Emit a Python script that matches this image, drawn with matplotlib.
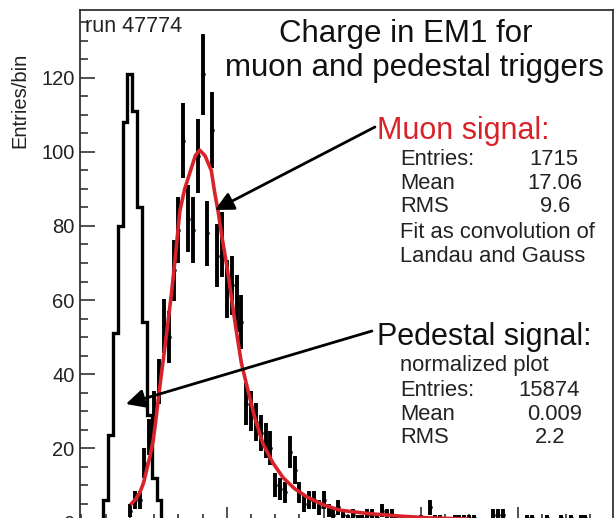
import numpy as np
import matplotlib
matplotlib.use("Agg")
import matplotlib.pyplot as plt

plt.rcParams['font.family'] = ['Liberation Sans', 'DejaVu Sans']

W, H = 614, 518

# ---------------- data ----------------
# pedestal histogram (normalized), bins of width 1 centred on integers
ped_centers = [-6, -5, -4, -3, -2, -1, 0, 1, 2, 3, 4, 5, 6, 7]
ped_values = [0, 6, 23.5, 51, 80, 108, 121, 111, 85, 54, 29, 12, 6, 0]

# muon histogram, bin centres and contents (Poisson error bars)
muon_centers = list(range(0, 95))
muon_values = [3, 6, 6, 16, 23, 30, 38, 53, 50, 68,
               79, 103, 82, 79, 99, 121, 78, 106, 72, 75,
               63, 64, 59, 54, 32, 30, 27, 24, 22, 20,
               10, 9, 8, 19, 14, 8, 5, 6, 6, 4,
               6, 3, 2, 4, 2, 1, 2, 1, 1, 2,
               2, 1, 3, 2, 2, 1, 1, 0, 1, 0,
               1, 0, 4, 1, 1, 0, 0, 1, 1, 1,
               1, 1, 0, 0, 0, 2, 2, 2, 0, 0,
               0, 0, 1, 1, 0, 0, 1, 0, 0, 1,
               0, 1, 0, 1, 1]

# Landau (x) Gauss fit curve
fit_x = [0.35, 1.2, 2.06, 2.8, 3.45, 4.1, 4.8, 5.3, 5.84, 6.5, 7.2, 7.9, 8.6, 9.4,
         10.3, 11.3, 12.4, 13.5, 14.4, 15.5, 16.8, 17.5, 18.2, 19.0, 19.9, 20.6,
         21.8, 23.0, 24.1, 25.8, 27.5, 29.5, 31.6, 34.0, 36.5, 40.0, 43.3, 49.0,
         55.7, 62.0, 70.0, 80.0, 90.0, 99.5]
fit_y = [5.0, 6.2, 8.0, 10.5, 14.0, 17.5, 22.0, 27.0, 33.0, 40.0, 47.0, 54.5, 62.0, 72.0,
         84.0, 90.0, 94.5, 99.0, 100.5, 99.0, 95.0, 89.0, 84.0, 77.0, 70.0, 64.0,
         53.0, 43.0, 37.0, 28.0, 21.0, 16.0, 12.0, 9.0, 6.8, 4.6, 3.2, 2.3,
         1.6, 1.1, 0.8, 0.5, 0.35, 0.25]

y_ticks = [0, 20, 40, 60, 80, 100, 120]
y_ticklabels = ['0', '20', '40', '60', '80', '100', '120']

# ---------------- figure ----------------
fig = plt.figure(figsize=(W / 100, H / 100), dpi=100)
ax_left, ax_right, ax_top, ax_bot = 80, 613, 10, 522
ax = fig.add_axes([ax_left / W, 1 - ax_bot / H, (ax_right - ax_left) / W, (ax_bot - ax_top) / H])
ax.set_xlim(-10.3, 99.7)
ax.set_ylim(0, (ax_bot - ax_top) / 3.7)

# pedestal step histogram
edges = np.array(ped_centers + [ped_centers[-1] + 1], dtype=float) - 0.5
ax.stairs(ped_values, edges, color='black', lw=2.4, baseline=0)

# muon histogram with error bars
mc = np.array(muon_centers, dtype=float)
mv = np.array(muon_values, dtype=float)
sel = mv > 0
ax.errorbar(mc[sel], mv[sel], yerr=np.sqrt(mv[sel]), fmt='o', ms=2.2, color='black',
            ecolor='black', elinewidth=2.8, capsize=0, zorder=3)

# fit curve
ax.plot(fit_x, fit_y, color='#d8232a', lw=2.6, zorder=4, solid_joinstyle='round')

# axes styling (ROOT-like)
for s in ['top', 'right', 'left', 'bottom']:
    ax.spines[s].set_linewidth(1.3)
    ax.spines[s].set_color('#333333')
ax.set_yticks(y_ticks)
ax.set_yticklabels(y_ticklabels)
ax.set_yticks(np.arange(0, 140, 5), minor=True)
ax.set_xticks([0, 20, 40, 60, 80])
ax.set_xticks(np.arange(-10, 100, 5), minor=True)
ax.set_xticklabels([])
ax.tick_params(axis='both', which='major', direction='in', length=11, width=1.2, color='#333333',
               labelsize=14.5, labelcolor='#222222', pad=4)
ax.tick_params(axis='both', which='minor', direction='in', length=6, width=1.2, color='#333333')

def ptext(x, y, s, **kw):
    fig.text(x / W, 1 - y / H, s, **kw)

ptext(20, 100, 'Entries/bin', rotation=90, fontsize=14.5, color='#222222', ha='center', va='center')
ptext(85, 32, 'run 47774', fontsize=15.5, color='#222222', ha='left', va='baseline')

ptext(406, 42, 'Charge in EM1 for', fontsize=22.5, color='#111111', ha='center', va='baseline')
ptext(414, 76, 'muon and pedestal triggers', fontsize=22.5, color='#111111', ha='center', va='baseline')

ptext(377, 139, 'Muon signal:', fontsize=22, color='#d8232a', ha='left', va='baseline')
muon_stats = [('Entries:', '1715', 554), ('Mean', '17.06', 555), ('RMS', '9.6', 555)]
for i, (k, v, xc) in enumerate(muon_stats):
    yb = 165 + 23.7 * i
    ptext(400, yb, k, fontsize=15.8, color='#222222', ha='left', va='baseline')
    ptext(xc, yb, v, fontsize=15.8, color='#222222', ha='center', va='baseline')
ptext(400, 238, 'Fit as convolution of', fontsize=15.8, color='#222222', ha='left', va='baseline')
ptext(400, 262, 'Landau and Gauss', fontsize=15.8, color='#222222', ha='left', va='baseline')

ptext(377, 345, 'Pedestal signal:', fontsize=22, color='#111111', ha='left', va='baseline')
ptext(400, 371, 'normalized plot', fontsize=15.8, color='#222222', ha='left', va='baseline')
ped_stats = [('Entries:', '15874', 549), ('Mean', '0.009', 555), ('RMS', '2.2', 550)]
for i, (k, v, xc) in enumerate(ped_stats):
    yb = 396 + 23.5 * i
    ptext(400, yb, k, fontsize=15.8, color='#222222', ha='left', va='baseline')
    ptext(xc, yb, v, fontsize=15.8, color='#222222', ha='center', va='baseline')

# arrows (pixel positions -> data)
def px2data(x, y):
    return ((x - 130) / 4.845, (ax_bot - y) / 3.7)

arrowprops = dict(arrowstyle='-|>', lw=2.0, color='black', mutation_scale=28, shrinkA=0, shrinkB=0)
ax.annotate('', xy=px2data(215, 210), xytext=px2data(375, 127), arrowprops=arrowprops, zorder=5)
ax.annotate('', xy=px2data(126, 404), xytext=px2data(372, 331), arrowprops=arrowprops, zorder=5)

fig.savefig('out.png', dpi=100)
